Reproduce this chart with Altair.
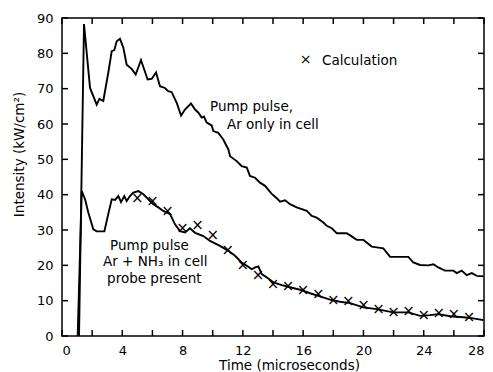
import altair as alt
import pandas as pd

# Upper curve: pump pulse, Ar only in cell
upper_x = [1.13, 1.46, 1.86, 2.30, 2.48, 2.74, 3.07, 3.30, 3.47, 3.63, 3.85, 4.07, 4.29, 4.62,
           4.89, 5.24, 5.68, 5.95, 6.24, 6.50, 6.83, 7.05, 7.28, 7.61, 7.90, 8.16, 8.56, 8.83,
           9.05, 9.27, 9.42, 9.60, 9.93, 10.04, 10.37, 10.70, 11.04, 11.15, 11.59, 11.92, 12.26,
           12.47, 12.81, 13.14, 13.47, 13.90, 14.25, 14.47, 14.80, 15.13, 15.57, 16.24, 16.57,
           16.90, 17.34, 17.56, 17.90, 18.23, 18.89, 19.22, 19.56, 20.00, 20.55, 20.99, 21.32,
           21.77, 22.98, 23.31, 23.76, 24.31, 24.64, 24.97, 25.41, 25.97, 26.19, 26.52, 26.85,
           27.19, 27.52, 27.96]
upper_y = [0.0, 88.3, 70.2, 65.5, 67.1, 66.5, 74.5, 80.6, 80.9, 83.4, 84.1, 81.6, 76.8, 75.6,
           74.0, 78.1, 72.6, 72.8, 74.6, 70.7, 70.2, 69.3, 69.0, 66.0, 62.4, 64.1, 65.8, 64.1,
           63.2, 61.8, 62.1, 60.4, 59.6, 58.0, 57.5, 55.6, 52.8, 50.9, 49.5, 48.1, 47.7,
           45.3, 44.8, 43.4, 42.5, 40.3, 39.0, 38.0, 38.4, 37.3, 36.4, 35.4, 34.0,
           33.5, 32.1, 31.2, 30.5, 29.1, 29.1, 28.2, 27.2, 27.2, 25.3, 25.0, 24.8,
           22.4, 22.4, 20.8, 20.1, 20.0, 20.3, 19.4, 18.5, 18.5, 17.8, 18.5, 17.2,
           17.8, 17.0, 16.9]

# Lower curve: pump pulse, Ar + NH3 in cell, probe present
lower_x = [1.04, 1.31, 1.53, 1.75, 2.08, 2.30, 2.81, 3.07, 3.30, 3.52, 3.74, 3.92, 4.13, 4.29,
           4.51, 4.73, 5.07, 5.40, 5.73, 6.06, 6.39, 6.72, 7.17, 7.50, 7.83, 8.16, 8.49, 8.83,
           9.38, 9.82, 10.48, 11.04, 11.48, 11.92, 12.26, 12.59, 12.81, 13.03, 13.25, 13.58,
           14.02, 14.58, 15.13, 15.79, 16.46, 17.12, 17.78, 18.45, 19.11, 20.00, 20.88, 21.98,
           22.98, 23.76, 24.42, 24.97, 25.75, 26.63, 27.29, 27.96]
lower_y = [0.0, 41.0, 38.7, 34.9, 30.2, 29.6, 29.6, 34.5, 38.7, 38.5, 39.6, 37.9, 39.6, 38.2,
           39.6, 40.6, 41.0, 40.1, 38.7, 37.3, 36.4, 35.4, 34.5, 31.6, 29.7, 29.3, 30.5, 29.2,
           28.3, 26.9, 25.5, 24.1, 22.7, 20.8, 19.9, 18.9, 19.4, 19.7, 17.5, 16.6,
           15.2, 14.4, 13.8, 13.1, 12.1, 11.2, 10.3, 9.7, 9.3, 8.1, 7.6, 6.7,
           6.7, 5.7, 5.9, 6.2, 5.6, 5.3, 5.0, 4.5]

# Calculation points (x markers)
calc_x = [5, 6, 7, 8, 9, 10, 11, 12, 13, 14, 15, 16, 17, 18, 19, 20, 21, 22, 23, 24, 25, 26, 27]
calc_y = [38.9, 37.8, 35.1, 30.2, 31.2, 28.3, 24.1, 19.7, 16.9, 14.5, 14.0, 12.8, 11.6, 10.0,
          9.5, 8.4, 7.4, 6.5, 6.9, 5.7, 6.2, 5.9, 5.0]

# Annotations
note_text = ["Calculation", "Pump pulse,", "Ar only in cell", "Pump pulse",
             "Ar + NH\u2083 in cell", "probe present"]
note_x = [17.25, 9.82, 10.95, 3.19, 2.72, 2.99]
note_y = [77.8, 64.7, 59.6, 25.4, 20.9, 16.1]
legend_x = [16.17]
legend_y = [77.8]

# Tick positions
XTICKS = list(range(0, 29, 2))
YTICKS = list(range(0, 91, 10))

FONT = "DejaVu Sans"
W, H, TL = 422, 318, 6

up = pd.DataFrame({"t": upper_x, "v": upper_y})
lo = pd.DataFrame({"t": lower_x, "v": lower_y})
calc = pd.DataFrame({"t": calc_x, "v": calc_y, "m": ["\u00d7"] * len(calc_x)})
notes = pd.DataFrame({"t": note_x, "v": note_y, "label": note_text})
leg = pd.DataFrame({"t": legend_x, "v": legend_y, "m": ["\u00d7"]})
xt = pd.DataFrame({"t": XTICKS})
yt = pd.DataFrame({"v": YTICKS})

xs = alt.Scale(domain=[0, 28], nice=False, zero=False)
ys = alt.Scale(domain=[0, 90], nice=False)

x_axis = alt.Axis(values=XTICKS, labelExpr="datum.value % 4 == 0 ? datum.label : ''",
                  ticks=False, domain=False, grid=False, labelPadding=8,
                  labelColor="black", labelFont=FONT, labelFontSize=13,
                  title="Time (microseconds)", titleFont=FONT,
                  titleFontSize=13.5, titleFontWeight="normal", titleColor="black",
                  titleX=227, titleY=29, titleBaseline="middle", titleAlign="center")
y_axis = alt.Axis(values=YTICKS, ticks=False, domain=False, grid=False, labelPadding=9,
                  labelColor="black", labelFont=FONT, labelFontSize=13,
                  title="Intensity (kW/cm\u00b2)",
                  titleFont=FONT, titleFontSize=13.5, titleFontWeight="normal",
                  titleColor="black", titleX=-43, titleY=136, titleBaseline="middle",
                  titleAlign="center", titleAngle=-90)

# inward tick marks on all four sides of the frame
tick_bottom = alt.Chart(xt).mark_tick(color="black", thickness=1.5, size=TL,
                                      orient="vertical", opacity=1).encode(
    x=alt.X("t:Q", scale=xs, axis=None), y=alt.value(H - TL / 2))
tick_top = alt.Chart(xt).mark_tick(color="black", thickness=1.5, size=TL,
                                   orient="vertical", opacity=1).encode(
    x=alt.X("t:Q", scale=xs, axis=None), y=alt.value(TL / 2))
tick_left = alt.Chart(yt).mark_tick(color="black", thickness=1.5, size=TL,
                                    orient="horizontal", opacity=1).encode(
    y=alt.Y("v:Q", scale=ys, axis=None), x=alt.value(TL / 2))
tick_right = alt.Chart(yt).mark_tick(color="black", thickness=1.5, size=TL,
                                     orient="horizontal", opacity=1).encode(
    y=alt.Y("v:Q", scale=ys, axis=None), x=alt.value(W - TL / 2))

lower_line = alt.Chart(lo).mark_line(color="black", strokeWidth=1.9).encode(
    x=alt.X("t:Q", scale=xs, axis=x_axis),
    y=alt.Y("v:Q", scale=ys, axis=y_axis),
)
upper_line = alt.Chart(up).mark_line(color="black", strokeWidth=1.9).encode(
    x=alt.X("t:Q", scale=xs, axis=None),
    y=alt.Y("v:Q", scale=ys, axis=None),
)
calc_pts = alt.Chart(calc).mark_text(font=FONT, fontSize=15, color="black",
                                     baseline="middle", align="center", dy=-1).encode(
    x=alt.X("t:Q", scale=xs, axis=None),
    y=alt.Y("v:Q", scale=ys, axis=None),
    text="m:N",
)
leg_pt = alt.Chart(leg).mark_text(font=FONT, fontSize=14, color="black",
                                  baseline="middle", align="center", dy=-1).encode(
    x=alt.X("t:Q", scale=xs, axis=None),
    y=alt.Y("v:Q", scale=ys, axis=None),
    text="m:N",
)
note_layer = alt.Chart(notes).mark_text(align="left", baseline="middle", font=FONT,
                                        fontSize=13.5, color="black").encode(
    x=alt.X("t:Q", scale=xs, axis=None),
    y=alt.Y("v:Q", scale=ys, axis=None),
    text="label:N",
)

chart = alt.layer(tick_bottom, tick_top, tick_left, tick_right,
                  lower_line, upper_line, calc_pts, leg_pt, note_layer).resolve_axis(
    x="independent", y="independent"
).properties(
    width=W, height=H,
    autosize=alt.AutoSizeParams(type="none"),
    padding={"left": 54, "top": 10, "right": 1, "bottom": 36},
).configure_view(stroke="black", strokeWidth=1.5)

chart.save("out.html", embed_options={"renderer": "svg", "actions": False})
